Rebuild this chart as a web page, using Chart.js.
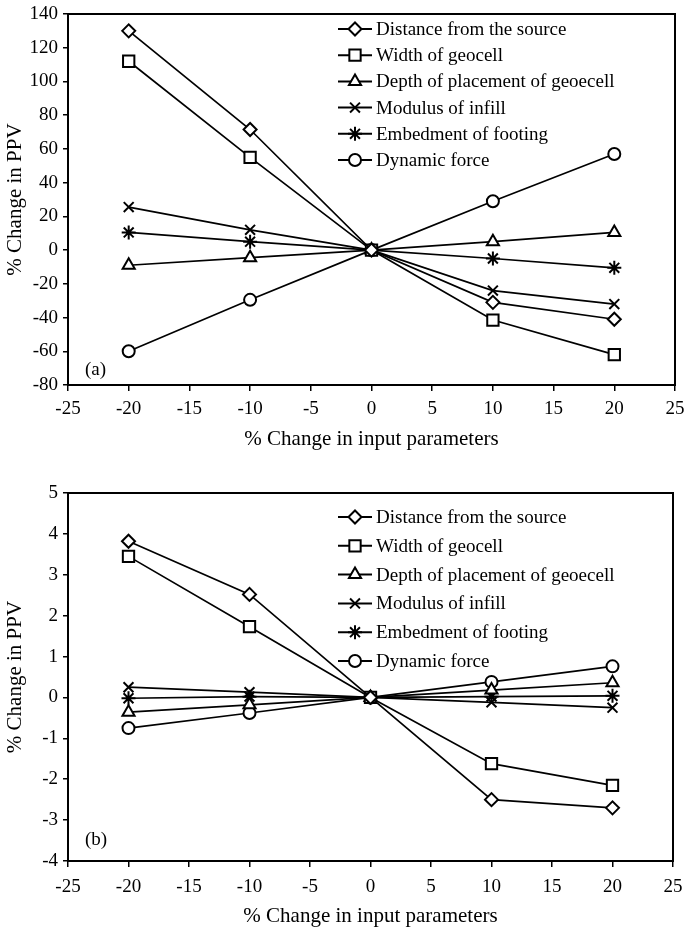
<!DOCTYPE html>
<html>
<head>
<meta charset="utf-8">
<script src="https://cdn.jsdelivr.net/npm/chart.js@4.4.1/dist/chart.umd.min.js"></script>
<style>
  html,body{margin:0;padding:0;background:#fff;}
  #wrap{width:685px;height:930px;position:relative;}
  .box{position:absolute;left:0;width:685px;}
  #ba{top:0;height:460px;}
  #bb{top:460px;height:470px;}
</style>
</head>
<body>
<div id="wrap">
  <div class="box" id="ba"><canvas id="ca" width="685" height="460"></canvas></div>
  <div class="box" id="bb"><canvas id="cb" width="685" height="470"></canvas></div>
</div>
<script>
// ---- data ----
const xValues = [-20, -10, 0, 10, 20];
const seriesNames = ["Distance from the source", "Width of geocell", "Depth of placement of geoecell", "Modulus of infill", "Embedment of footing", "Dynamic force"];
const seriesStyles = ["rectRot", "rect", "triangle", "crossRot", "star", "circle"];

// panel (a)
const distanceA = [130, 71.5, 0, -31, -41];
const widthA = [112, 55, 0, -41.5, -62];
const depthA = [-9, -4.5, 0, 5, 10.5];
const modulusA = [25.5, 12, 0, -24, -32];
const embedmentA = [10.5, 5, 0, -5, -10.5];
const dynamicA = [-60, -29.5, 0, 29, 57];

// panel (b)
const distanceB = [3.82, 2.52, 0, -2.5, -2.7];
const widthB = [3.45, 1.73, 0, -1.62, -2.15];
const depthB = [-0.36, -0.18, 0, 0.18, 0.36];
const modulusB = [0.25, 0.13, 0, -0.12, -0.25];
const embedmentB = [-0.02, 0.02, 0, 0.02, 0.04];
const dynamicB = [-0.75, -0.38, 0, 0.38, 0.76];

const xTicksA = { min: -25, max: 25, step: 5 };
const yTicksA = { min: -80, max: 140, step: 20 };
const xTicksB = { min: -25, max: 25, step: 5 };
const yTicksB = { min: -4, max: 5, step: 1 };

const FONT = "'Liberation Serif', 'Times New Roman', serif";
const markerRadius = { rectRot: 6.5, rect: 8, triangle: 7, crossRot: 7, star: 7, circle: 6 };

function makeDatasets(arrs) {
  return arrs.map((vals, i) => ({
    label: seriesNames[i],
    data: xValues.map((x, j) => ({ x: x, y: vals[j] })),
    showLine: true,
    borderColor: '#000',
    borderWidth: 1.7,
    backgroundColor: '#fff',
    pointStyle: seriesStyles[i],
    pointRadius: markerRadius[seriesStyles[i]],
    pointBorderWidth: 2,
    pointBorderColor: '#000',
    pointBackgroundColor: '#fff',
    tension: 0
  }));
}

function boxAndLegendPlugin(cfg) {
  return {
    id: 'boxLegend' + cfg.tag,
    afterDatasetsDraw(chart) {
      const ctx = chart.ctx;
      const a = chart.chartArea;
      ctx.save();
      ctx.strokeStyle = '#000';
      ctx.lineWidth = 2;
      ctx.strokeRect(a.left, a.top, a.right - a.left, a.bottom - a.top);
      // legend
      ctx.font = '19px ' + FONT;
      ctx.textBaseline = 'middle';
      ctx.textAlign = 'left';
      chart.data.datasets.forEach((ds, i) => {
        const y = cfg.legendY0 + i * cfg.legendDy;
        ctx.strokeStyle = '#000';
        ctx.lineWidth = 2;
        ctx.beginPath();
        ctx.moveTo(cfg.legendX, y);
        ctx.lineTo(cfg.legendX + 34, y);
        ctx.stroke();
        ctx.fillStyle = '#fff';
        ctx.strokeStyle = '#000';
        ctx.lineWidth = 2;
        Chart.helpers.drawPoint(ctx, { pointStyle: ds.pointStyle, radius: markerRadius[ds.pointStyle], rotation: 0, borderWidth: 2 }, cfg.legendX + 17, y);
        ctx.fillStyle = '#000';
        ctx.fillText(ds.label, cfg.legendX + 38, y + 1);
      });
      // panel tag
      ctx.font = '19px ' + FONT;
      ctx.fillText(cfg.tag, a.left + 17, a.bottom - cfg.tagOff);
      ctx.restore();
    }
  };
}

function makeChart(canvasId, arrs, xt, yt, geom, tag) {
  return new Chart(document.getElementById(canvasId), {
    type: 'scatter',
    data: { datasets: makeDatasets(arrs) },
    options: {
      responsive: false,
      animation: false,
      devicePixelRatio: 1,
      layout: { padding: { top: geom.top, right: geom.right, left: 0, bottom: 0 } },
      plugins: { legend: { display: false }, tooltip: { enabled: false } },
      scales: {
        x: {
          type: 'linear',
          min: xt.min, max: xt.max,
          ticks: { stepSize: xt.step, color: '#000', font: { family: FONT, size: 19 }, padding: geom.xTickPad, maxRotation: 0 },
          grid: { display: true, drawOnChartArea: false, drawTicks: true, tickLength: 6, color: '#000', lineWidth: 1.5 },
          border: { display: true, color: '#000', width: 2 },
          title: { display: true, text: '% Change in input parameters', color: '#000', font: { family: FONT, size: 21 }, padding: { top: 0, bottom: geom.xTitlePad } },
          afterFit(s) { s.height = geom.xHeight; s.paddingLeft = 0; s.paddingRight = 0; }
        },
        y: {
          type: 'linear',
          min: yt.min, max: yt.max,
          ticks: { stepSize: yt.step, color: '#000', font: { family: FONT, size: 19 }, padding: 5 },
          grid: { display: true, drawOnChartArea: false, drawTicks: true, tickLength: 5, color: '#000', lineWidth: 1.5 },
          border: { display: true, color: '#000', width: 2 },
          title: { display: true, text: '% Change in PPV', color: '#000', font: { family: FONT, size: 21 }, padding: { top: 3, bottom: 0 } },
          afterFit(s) { s.width = 68; s.paddingTop = 0; s.paddingBottom = 0; }
        }
      }
    },
    plugins: [boxAndLegendPlugin({ tag: tag, legendX: 338, legendY0: geom.legendY0, legendDy: geom.legendDy, tagOff: geom.tagOff })]
  });
}

makeChart('ca', [distanceA, widthA, depthA, modulusA, embedmentA, dynamicA], xTicksA, yTicksA,
  { top: 14, right: 9, xHeight: 75, xTickPad: 7, xTitlePad: 8, legendY0: 29, legendDy: 26.2, tagOff: 15 }, '(a)');
makeChart('cb', [distanceB, widthB, depthB, modulusB, embedmentB, dynamicB], xTicksB, yTicksB,
  { top: 33, right: 12, xHeight: 69, xTickPad: 9, xTitlePad: 1, legendY0: 57, legendDy: 28.8, tagOff: 21 }, '(b)');
</script>
</body>
</html>
